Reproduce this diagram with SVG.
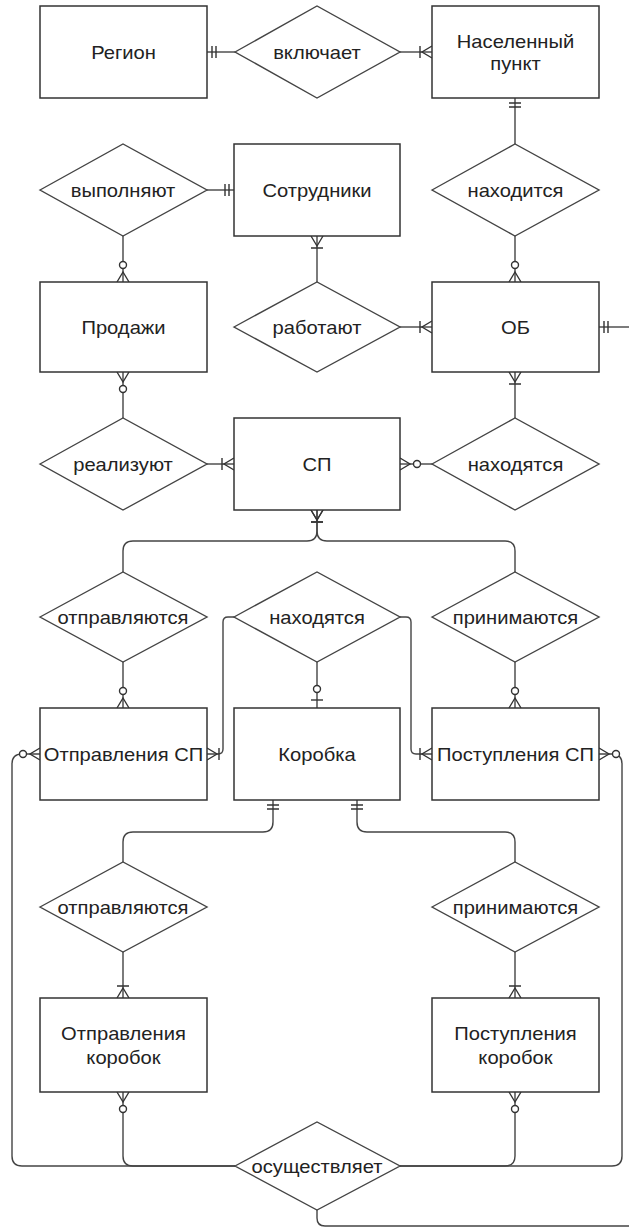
<svg xmlns="http://www.w3.org/2000/svg" width="629" height="1228" viewBox="0 0 629 1228">
<style>
.ent{fill:#fff;stroke:#333;stroke-width:1.5}
.rel{fill:#fff;stroke:#444;stroke-width:1.4}
.t{font-family:"Liberation Sans",Arial,sans-serif;font-size:18px;fill:#222;text-anchor:middle;dominant-baseline:central}
.c{fill:none;stroke:#444;stroke-width:1.4}
.m{fill:none;stroke:#333;stroke-width:1.4}
</style>
<defs>
<marker id="mandOne" markerUnits="userSpaceOnUse" markerWidth="30" markerHeight="20" viewBox="0 0 30 20" refX="30" refY="10" orient="auto" overflow="visible">
<path class="m" d="M25,4V16M21,4V16"/>
</marker>
<marker id="oneMany" markerUnits="userSpaceOnUse" markerWidth="30" markerHeight="20" viewBox="0 0 30 20" refX="30" refY="10" orient="auto" overflow="visible">
<path class="m" d="M30,4L20,10L30,16M18,4V16"/>
</marker>
<marker id="zeroMany" markerUnits="userSpaceOnUse" markerWidth="30" markerHeight="20" viewBox="0 0 30 20" refX="30" refY="10" orient="auto" overflow="visible">
<path class="m" d="M30,4L20,10L30,16"/>
<circle cx="13" cy="10" r="3.5" fill="#fff" stroke="#333" stroke-width="1.4"/>
</marker>
<marker id="zeroOne" markerUnits="userSpaceOnUse" markerWidth="30" markerHeight="20" viewBox="0 0 30 20" refX="30" refY="10" orient="auto" overflow="visible">
<path class="m" d="M22,4V16"/>
<circle cx="11" cy="10" r="3.5" fill="#fff" stroke="#333" stroke-width="1.4"/>
</marker>
</defs>
<rect width="629" height="1228" fill="#fff"/>

<g id="connectors">
<path class="c" d="M235,52H207" marker-end="url(#mandOne)"/>
<path class="c" d="M400,52H432" marker-end="url(#oneMany)"/>
<path class="c" d="M515,144V98" marker-end="url(#mandOne)"/>
<path class="c" d="M207,190H234" marker-end="url(#mandOne)"/>
<path class="c" d="M123,236V282" marker-end="url(#zeroMany)"/>
<path class="c" d="M515,236V282" marker-end="url(#zeroMany)"/>
<path class="c" d="M317,282V236" marker-end="url(#oneMany)"/>
<path class="c" d="M400,327H432" marker-end="url(#oneMany)"/>
<path class="c" d="M629,327H599" marker-end="url(#mandOne)"/>
<path class="c" d="M123,418V372" marker-end="url(#zeroMany)"/>
<path class="c" d="M515,418V372" marker-end="url(#oneMany)"/>
<path class="c" d="M207,464H234" marker-end="url(#oneMany)"/>
<path class="c" d="M432,464H400" marker-end="url(#zeroMany)"/>
<path class="c" d="M123,572V551Q123,541 133,541H307Q317,541 317,531V510" marker-end="url(#oneMany)"/>
<path class="c" d="M515,572V551Q515,541 505,541H327Q317,541 317,531V510" marker-end="url(#oneMany)"/>
<path class="c" d="M123,662V708" marker-end="url(#zeroMany)"/>
<path class="c" d="M317,662V708" marker-end="url(#zeroOne)"/>
<path class="c" d="M515,662V708" marker-end="url(#zeroMany)"/>
<path class="c" d="M234,617H228Q223,617 223,622V749Q223,754 218,754H207" marker-end="url(#oneMany)"/>
<path class="c" d="M400,617H406Q411,617 411,622V749Q411,754 416,754H432" marker-end="url(#oneMany)"/>
<path class="c" d="M123,862V842Q123,832 133,832H263Q273,832 273,822V800" marker-end="url(#mandOne)"/>
<path class="c" d="M515,862V842Q515,832 505,832H367Q357,832 357,822V800" marker-end="url(#mandOne)"/>
<path class="c" d="M123,952V998" marker-end="url(#oneMany)"/>
<path class="c" d="M515,952V998" marker-end="url(#oneMany)"/>
<path class="c" d="M235,1166H22Q12,1166 12,1156V764Q12,754 22,754H40" marker-end="url(#zeroMany)"/>
<path class="c" d="M235,1166H133Q123,1166 123,1156V1092" marker-end="url(#zeroMany)"/>
<path class="c" d="M400,1166H612Q622,1166 622,1156V764Q622,754 612,754H599" marker-end="url(#zeroMany)"/>
<path class="c" d="M400,1166H505Q515,1166 515,1156V1092" marker-end="url(#zeroMany)"/>
<path class="c" d="M317,1210V1218Q317,1226 325,1226H629"/>
</g>

<g id="region"><rect class="ent" x="40" y="6" width="167" height="92"/><text class="t" transform="matrix(1.12 0 0 1 123.5 53)">Регион</text></g>
<g id="vklyuchaet"><polygon class="rel" points="235,52 317,6 400,52 317,98"/><text class="t" transform="matrix(1.12 0 0 1 317 53)">включает</text></g>
<g id="naselennyi-punkt"><rect class="ent" x="432" y="6" width="167" height="92"/><text class="t" transform="matrix(1.12 0 0 1 515.5 42)">Населенный</text><text class="t" transform="matrix(1.12 0 0 1 515.5 64)">пункт</text></g>

<g id="vypolnyayut"><polygon class="rel" points="40,190 123,144 207,190 123,236"/><text class="t" transform="matrix(1.12 0 0 1 123 191)">выполняют</text></g>
<g id="sotrudniki"><rect class="ent" x="234" y="144" width="166" height="92"/><text class="t" transform="matrix(1.12 0 0 1 317 191)">Сотрудники</text></g>
<g id="nakhoditsya"><polygon class="rel" points="432,190 515,144 599,190 515,236"/><text class="t" transform="matrix(1.12 0 0 1 515.5 191)">находится</text></g>

<g id="prodazhi"><rect class="ent" x="40" y="282" width="167" height="90"/><text class="t" transform="matrix(1.12 0 0 1 123.5 328)">Продажи</text></g>
<g id="rabotayut"><polygon class="rel" points="234,327 317,282 400,327 317,372"/><text class="t" transform="matrix(1.12 0 0 1 317 328)">работают</text></g>
<g id="ob"><rect class="ent" x="432" y="282" width="167" height="90"/><text class="t" transform="matrix(1.12 0 0 1 515.5 328)">ОБ</text></g>

<g id="realizuyut"><polygon class="rel" points="40,464 123,418 207,464 123,510"/><text class="t" transform="matrix(1.12 0 0 1 123 465)">реализуют</text></g>
<g id="sp"><rect class="ent" x="234" y="418" width="166" height="92"/><text class="t" transform="matrix(1.12 0 0 1 317 465)">СП</text></g>
<g id="nakhodyatsya-1"><polygon class="rel" points="432,464 515,418 599,464 515,510"/><text class="t" transform="matrix(1.12 0 0 1 515.5 465)">находятся</text></g>

<g id="otpravlyayutsya-1"><polygon class="rel" points="40,617 123,572 207,617 123,662"/><text class="t" transform="matrix(1.12 0 0 1 123 618)">отправляются</text></g>
<g id="nakhodyatsya-2"><polygon class="rel" points="234,617 317,572 400,617 317,662"/><text class="t" transform="matrix(1.12 0 0 1 317 618)">находятся</text></g>
<g id="prinimayutsya-1"><polygon class="rel" points="432,617 515,572 599,617 515,662"/><text class="t" transform="matrix(1.12 0 0 1 515.5 618)">принимаются</text></g>

<g id="otpravleniya-sp"><rect class="ent" x="40" y="708" width="167" height="92"/><text class="t" transform="matrix(1.12 0 0 1 123.5 755)">Отправления СП</text></g>
<g id="korobka"><rect class="ent" x="234" y="708" width="166" height="92"/><text class="t" transform="matrix(1.12 0 0 1 317 755)">Коробка</text></g>
<g id="postupleniya-sp"><rect class="ent" x="432" y="708" width="167" height="92"/><text class="t" transform="matrix(1.12 0 0 1 515.5 755)">Поступления СП</text></g>

<g id="otpravlyayutsya-2"><polygon class="rel" points="40,907 123,862 207,907 123,952"/><text class="t" transform="matrix(1.12 0 0 1 123 908)">отправляются</text></g>
<g id="prinimayutsya-2"><polygon class="rel" points="432,907 515,862 599,907 515,952"/><text class="t" transform="matrix(1.12 0 0 1 515.5 908)">принимаются</text></g>

<g id="otpravleniya-korobok"><rect class="ent" x="40" y="998" width="167" height="94"/><text class="t" transform="matrix(1.12 0 0 1 123.5 1034)">Отправления</text><text class="t" transform="matrix(1.12 0 0 1 123.5 1058)">коробок</text></g>
<g id="postupleniya-korobok"><rect class="ent" x="432" y="998" width="167" height="94"/><text class="t" transform="matrix(1.12 0 0 1 515.5 1034)">Поступления</text><text class="t" transform="matrix(1.12 0 0 1 515.5 1058)">коробок</text></g>

<g id="osushchestvlyaet"><polygon class="rel" points="235,1166 317,1122 400,1166 317,1210"/><text class="t" transform="matrix(1.12 0 0 1 317 1167)">осуществляет</text></g>
</svg>
